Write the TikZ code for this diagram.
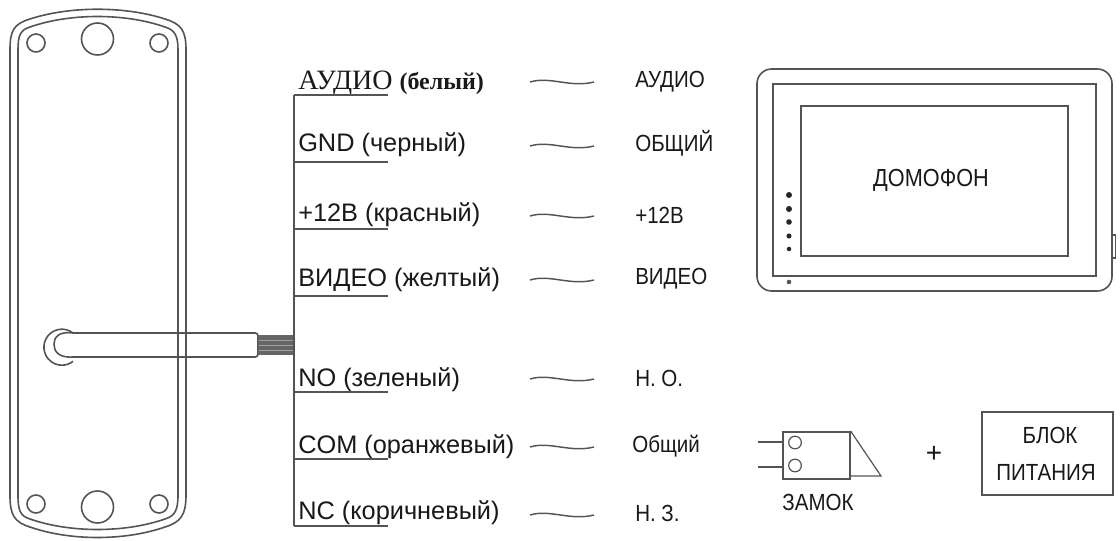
\documentclass[tikz,border=0pt]{standalone}
\usepackage{fontspec}
\setmainfont{Liberation Sans}
\newfontfamily\serifcyr{Liberation Serif}
\newfontfamily\narrowf[FakeStretch=0.88]{Liberation Sans}
\definecolor{ink}{gray}{0.33}
\definecolor{txt}{gray}{0.1}
\tikzset{
 line/.style={draw=ink,line width=1.2pt},
 thin line/.style={draw=ink,line width=0.9pt},
 wirelabel/.style={anchor=base west,inner sep=0pt,text=txt,font=\fontsize{19}{22}\selectfont},
 devlabel/.style={anchor=base west,inner sep=0pt,text=txt,font=\narrowf\fontsize{17.5}{20}\selectfont},
 caption/.style={inner sep=0pt,text=txt,font=\narrowf\fontsize{17.5}{20}\selectfont},
 hole/.style={circle,draw=ink,line width=1.2pt,inner sep=0pt,fill=none},
 tilde/.style={draw=ink,line width=1.1pt},
 led/.style={circle,fill=black!85,inner sep=0pt},
}
\newcommand{\tildeat}[2]{\draw[tilde] (#1,#2) .. controls (#1+20,#2-6) and (#1+40,#2+6) .. (#1+64,#2);}
\begin{document}
\begin{tikzpicture}[x=0.75pt,y=-0.75pt]
\useasboundingbox (0,0) rectangle (1120,541);
% plate outer
\path[line] (10,50) .. controls (10,30) and (14,24) .. (30,19)
  .. controls (70,6) and (125,6) .. (165,19)
  .. controls (181,24) and (186,30) .. (186,50)
  -- (186,495) .. controls (186,515) and (181,522) .. (165,527)
  .. controls (125,541) and (70,541) .. (30,527)
  .. controls (14,522) and (10,515) .. (10,495) -- cycle;
% plate inner
\path[line] (18,50) .. controls (18,36) and (20,30) .. (30,27)
  .. controls (70,13) and (125,13) .. (165,27)
  .. controls (175,30) and (178,36) .. (178,50)
  -- (178,495) .. controls (178,510) and (175,516) .. (165,519)
  .. controls (125,533) and (70,533) .. (30,519)
  .. controls (20,516) and (18,510) .. (18,495) -- cycle;
\node[hole,minimum size=13.5pt] (h1) at (36,43) {};
\node[hole,minimum size=24pt] (h2) at (97.5,39) {};
\node[hole,minimum size=13.5pt] (h3) at (159,43) {};
\node[hole,minimum size=13.5pt] (h4) at (36,504) {};
\node[hole,minimum size=24pt] (h5) at (97.5,507) {};
\node[hole,minimum size=13.5pt] (h6) at (159,504) {};
% handle
\path[line] (73,333) -- (255,333) .. controls (257,333) and (258,334) .. (258,336) -- (258,354) .. controls (258,356) and (257,357) .. (255,357) -- (73,357);
\path[line] (73,333) arc[start angle=-52,end angle=-308,radius=18];
\path[line] (73,333) .. controls (58,331) and (54,338) .. (54,344) .. controls (54,351) and (58,358) .. (73,357);
% wires
\fill[ink!90] (258,335) rectangle (293,355);
\foreach \yy in {340,345,350}{\draw[white!45!ink,line width=0.6pt] (259,\yy) -- (293,\yy);}
% bus
\coordinate (bt) at (294,95);
\coordinate (bb) at (294,526);
\draw[line] (bt) -- (bb);
% wire labels
\node[wirelabel,font=\fontsize{21}{24}\selectfont\serifcyr] (w1) at (298,90) {АУДИО \fontsize{18}{20}\selectfont\bfseries (белый)};
\node[wirelabel] (w2) at (298,152) {GND (черный)};
\node[wirelabel] (w3) at (298,222) {+12В (красный)};
\node[wirelabel] (w4) at (298,287) {ВИДЕО (желтый)};
\node[wirelabel] (w5) at (298,386) {NO (зеленый)};
\node[wirelabel] (w6) at (298,453) {COM (оранжевый)};
\node[wirelabel] (w7) at (298,519) {NC (коричневый)};
\foreach \yy in {95,162,229,296,392,459,526}{\draw[line] (294,\yy) -- (388,\yy);}
% tildes
\tildeat{530}{82}
\tildeat{530}{146}
\tildeat{530}{216}
\tildeat{530}{280}
\tildeat{530}{379}
\tildeat{530}{447}
\tildeat{530}{515}
% device labels
\node[devlabel] (d1) at (635,88) {АУДИО};
\node[devlabel] (d2) at (635,152) {ОБЩИЙ};
\node[devlabel] (d3) at (635,224) {+12В};
\node[devlabel] (d4) at (635,285) {ВИДЕО};
\node[devlabel] (d5) at (635,387) {Н. О.};
\node[devlabel] (d6) at (632,452) {Общий};
\node[devlabel] (d7) at (635,521) {Н. З.};
% monitor
\draw[line,rounded corners=11pt] (757,69) rectangle (1112,291);
\draw[line] (773,84) rectangle (1096,276);
\draw[line] (801,106) rectangle (1068,256);
\draw[thin line] (1112,235) rectangle (1115.5,258);
\foreach \yy/\ss in {195/4.5pt,209/4.5pt,222/4.2pt,236/3.8pt,249/3.4pt}{\node[led,minimum size=\ss] at (789,\yy) {};}
\node[circle,draw=ink,fill=ink,inner sep=0pt,minimum size=3pt] (mled) at (789,282) {};
\node[caption,font=\narrowf\fontsize{18.5}{21}\selectfont] (dom) at (931,180) {ДОМОФОН};
% lock
\node[draw=ink,line width=1.2pt,inner sep=0pt,minimum width=50.25pt,minimum height=35.25pt,anchor=north west] (lock) at (782,431) {};
\path[thin line] (lock.north east) -- (881,476) -- (849,476);
\node[hole,minimum size=9.5pt,line width=0.9pt] (c1) at (795,442.5) {};
\node[hole,minimum size=9.5pt,line width=0.9pt] (c2) at (795,465.5) {};
\coordinate (l1) at (758,442);
\coordinate (l2) at (758,467);
\draw[thin line] (l1) -- (782,442);
\draw[line] (l2) -- (782,467);
\node[caption] (zam) at (818,502) {ЗАМОК};
\node[caption,font=\fontsize{21}{24}\selectfont] (plus) at (934,454) {+};
% PSU
\node[draw=ink,line width=1.2pt,inner sep=0pt,minimum width=98.25pt,minimum height=62.25pt] (psu) at (1047.5,453.5) {};
\node[caption] (b1) at (1050,435) {БЛОК};
\node[caption] (b2) at (1046,472) {ПИТАНИЯ};
\end{tikzpicture}
\end{document}
